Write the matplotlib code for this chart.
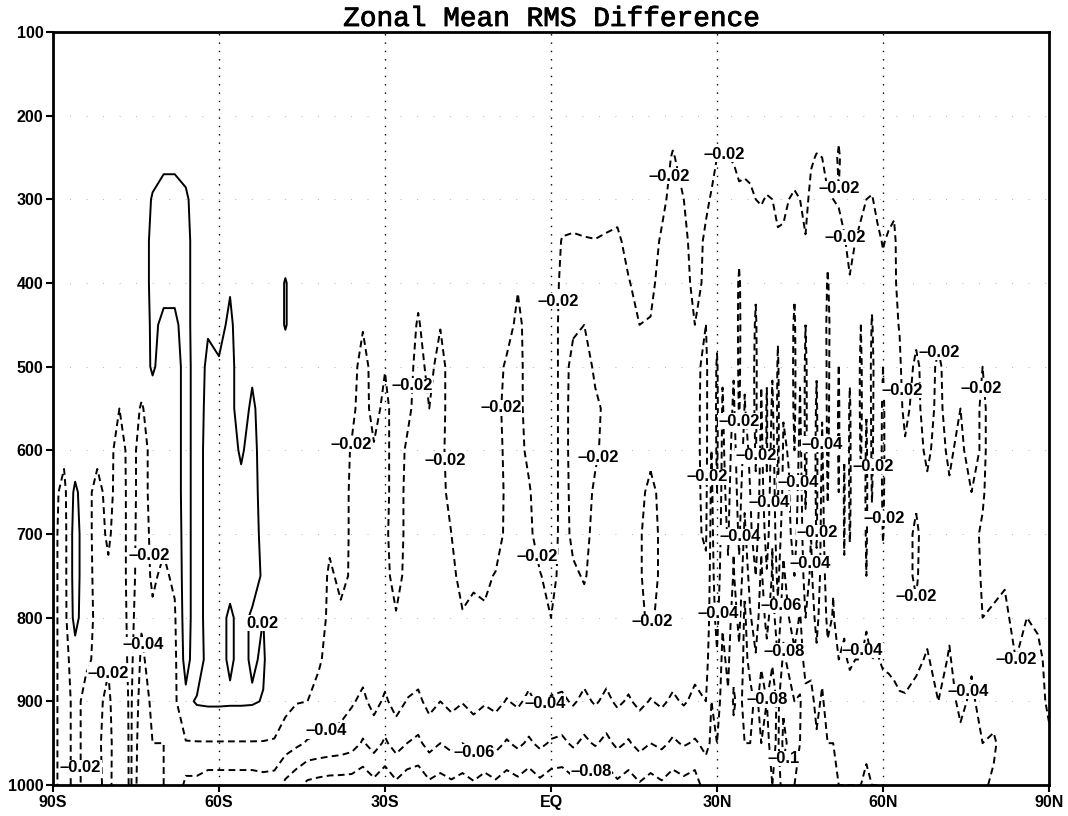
import numpy as np
import matplotlib
matplotlib.use("Agg")
import matplotlib.pyplot as plt
import matplotlib.patheffects as pe
from matplotlib.path import Path

# grid: pressure levels (hPa) and latitudes (1 deg in the NH midlatitudes)
plev = [100, 200, 250, 300, 350, 400, 450, 500, 550, 600, 650, 700, 750, 800, 850, 900, 950, 1000]
lats = list(range(-90, 28, 2)) + list(range(28, 64)) + list(range(64, 91, 2))

# zonal mean rms difference in units of 0.01, one row per latitude, levels top->bottom
rms = [
    [-0.5, -1, -1, -1, -1, -1, -1, -1, -1, -1, -1, -1, -1, -1, -1, -1, -1, -1],          # 90S
    [-0.5, -1, -1, -1, -1, -1, -1, -1, -1, -1.2, -3, -3.5, -3.5, -3.5, -3.5, -3.5, -3.5, -3.5],
    [-0.5, -1, -1, -1, -1, -1, -1, -1, -1, -1, 3, 4, 4, 3.5, 0, -1, -1, -1],
    [-0.5, -1, -1, -1, -1, -1, -1, -1, -1, -1, -1, -1, -1, -1, -1.5, -3, -3, -3],
    [-0.5, -1, -1, -1, -1, -1, -1, -1, -1, -1.2, -3, -3, -2.8, -2.6, -2.6, -2.4, -2.4, -2.6],
    [-0.5, -1, -1, -1, -1, -1, -1, -1, -1, -1, -1, -1.6, -2.4, -2.4, -2.2, -1.6, -1.2, -1.2],  # 80S
    [-0.5, -1, -1, -1, -1, -1, -1, -1, -2, -3.2, -3.4, -3.4, -3.4, -3.4, -3.4, -3.6, -3.8, -4],
    [-0.5, -1, -1, -1, -1, -1, -1, -1, -1, -1, -1, -1, -1, -1.2, -1.4, -1.6, -1.6, -1.6],
    [-0.5, -1, -1, -1, -1, -1, -1, -1, -2.2, -3, -3, -3.2, -3.4, -3.8, -4.4, -5, -5.6, -6],
    [-0.5, -1, -0.5, 2.5, 3.5, 3.5, 3, 2.8, -1, -1.2, -1.2, -1.4, -1.6, -2.4, -3, -3.6, -4, -4.4],
    [-0.5, -1, 1, 3.5, 4, 3.5, 1, -0.5, -0.5, -1, -1, -1.5, -2.5, -3, -3, -3.5, -4, -4],     # 70S
    [-0.5, -1, 1, 3.5, 4, 3.5, 1, -0.5, -0.5, -0.5, -0.5, -1, -1.5, -2.4, -2.8, -2.6, -2.4, -2.4],
    [-0.5, -1, -0.5, 3, 4, 4, 4, 4, 4, 4, 4, 4, 4, 4, 3.5, 1, -2.2, -4.5],
    [-0.5, -1, -1, -1, -1, -1, -1, -0.5, -0.5, -0.5, -0.5, -0.5, -0.5, -0.5, -0.5, 2.4, -2.2, -4.5],
    [-0.5, -1, -1, -1, -1, -1, 1.5, 3, 3.5, 4, 4, 4, 4, 4, 3.5, 2.6, -2.2, -5],
    [-0.5, -1, -1, -1, -1, -1, 0.5, 2.5, 3.5, 4, 4, 4, 4, 3, 3, 2.6, -2.2, -5],             # 60S
    [-0.5, -1, -1, -1, -1, 1.5, 3, 3.5, 3.5, 3.5, 3.5, 3.5, 3, 1.5, 1.5, 2.5, -2.2, -5],
    [-0.5, -1, -1, -1, -1, -1, -1, -0.5, -0.5, 1.5, 3, 3.5, 3.5, 3, 3, 2.5, -2.2, -5],
    [-0.5, -1, -1, -1, -1, -1, -1, 1, 3, 3.5, 3.5, 3.5, 3.5, 1.5, 1.5, 2.4, -2.2, -5],
    [-0.5, -1, -1, -1, -1, -1, -1, -1, -0.5, 0, 0.5, 1, 1.5, 2, 2.5, 1.8, -2.2, -4.8],
    [-0.5, -1, -1, -1, -1, -1, -1, -1, -1, -1, -1, -1, -1, -1, -1, -1.2, -2.1, -5],        # 50S
    [-0.5, -1, -1, -1, -1, 2.4, 2.4, -1, -1, -1, -1, -1, -1, -1, -1, -1.4, -3, -6.5],
    [-0.5, -1, -1, -1, -1, -1, -1, -1, -1, -1, -1, -1, -1, -1, -1.2, -1.9, -3.6, -7.5],
    [-0.5, -1, -1, -1, -1, -1, -1, -1, -1, -1, -1, -1, -1, -1, -1.5, -2, -4.2, -8.5],
    [-0.5, -1, -1, -1, -1, -1, -1, -1, -1, -1, -1, -1, -1, -1.2, -1.8, -2.5, -4.4, -8.8],
    [-0.5, -1, -1, -1, -1, -1, -1, -1, -1, -1, -1, -1.6, -2.3, -2.4, -2.5, -2.8, -4.6, -9],  # 40S
    [-0.5, -1, -1, -1, -1, -1, -1, -1, -1, -1, -1, -1, -1.6, -2.3, -2.6, -3.2, -4.8, -9],
    [-0.5, -1, -1, -1, -1, -1, -1, -1, -1.5, -2.2, -2.4, -2.4, -2.2, -2.4, -2.8, -3.8, -5.2, -9],
    [-0.5, -1, -1, -1, -1, -1, -1.8, -3, -3, -2.8, -2.6, -2.4, -2.4, -2.6, -3.2, -4.4, -6.2, -9.4],
    [-0.5, -1, -1, -1, -1, -1, -1, -1, -1.2, -2.2, -2.4, -2.4, -2.4, -2.5, -2.6, -3.4, -5.2, -8.6],
    [-0.5, -1, -1, -1, -1, -1, -1, -1.9, -2.6, -2.6, -2.6, -2.4, -2.4, -2.4, -3, -4.3, -6.3, -9.4],  # 30S
    [-0.5, -1, -1, -1, -1, -1, -1, -1, -1, -1, -1, -1, -1.5, -2.1, -2.4, -3.3, -5.2, -8.4],
    [-0.5, -1, -1, -1, -1, -1, -1, -1, -1.5, -2.3, -2.5, -2.5, -2.4, -2.4, -2.8, -4.1, -6, -9.2],
    [-0.5, -1, -1, -1, -1, -1.5, -2.2, -2.8, -2.8, -2.6, -2.6, -2.5, -2.4, -2.6, -3, -4.4, -6.4, -9.4],
    [-0.5, -1, -1, -1, -1, -1, -1, -1.4, -2, -2.6, -2.6, -2.5, -2.4, -2.5, -2.6, -3.4, -5.3, -8.4],
    [-0.5, -1, -1, -1, -1, -1, -1.9, -2.8, -2.8, -2.6, -2.6, -2.4, -2.3, -2.4, -2.8, -4, -6, -8.8],  # 20S
    [-0.5, -1, -1, -1, -1, -1, -1, -1, -1, -1, -1.4, -2, -2.3, -2.4, -2.6, -3.5, -5.4, -8.4],
    [-0.5, -1, -1, -1, -1, -1, -1, -1, -1, -1, -1, -1, -1.6, -2.1, -2.6, -3.9, -6, -8.8],
    [-0.5, -1, -1, -1, -1, -1, -1, -1, -1, -1, -1, -1, -1.8, -2.3, -2.4, -3.4, -5.3, -8.3],
    [-0.5, -1, -1, -1, -1, -1, -1, -1, -1, -1, -1, -1, -1.7, -2.2, -2.7, -3.8, -5.9, -8.9],
    [-0.5, -1, -1, -1, -1, -1, -1, -1, -1, -1, -1, -1.2, -2.1, -2.3, -2.5, -3.5, -5.4, -8.4],  # 10S
    [-0.5, -1, -1, -1, -1, -1, -1, -2.4, -3, -2.6, -2.4, -2.4, -2.4, -2.4, -2.8, -4.1, -6.2, -9],
    [-0.5, -1, -1, -1, -1, -1.8, -2.6, -2.8, -2.8, -2.6, -2.4, -2.3, -2.3, -2.4, -2.6, -3.7, -5.6, -8.6],
    [-0.5, -1, -1, -1, -1, -1, -1, -1, -1, -1.6, -2.2, -2.4, -2.4, -2.4, -2.9, -4.4, -6.3, -9.2],
    [-0.5, -1, -1, -1, -1, -1, -1, -1, -1, -1, -1, -1.2, -2.1, -2.3, -2.6, -3.6, -5.6, -8.5],
    [-0.5, -1, -1, -1, -1, -1, -1, -1, -1, -1, -1, -1, -1.4, -2, -2.8, -4.2, -6.2, -9.1],     # EQ
    [-0.5, -1, -1, -1.2, -2.1, -2.4, -2.6, -2.6, -2.6, -2.6, -2.6, -2.6, -2.6, -2.6, -3, -4.3, -6.4, -9.2],
    [-0.5, -1, -1, -1.2, -2.2, -2.4, -2.2, -1.6, -1.5, -1.5, -1.6, -1.7, -2.2, -2.6, -2.8, -3.8, -5.7, -8.6],
    [-0.5, -1, -1, -1.2, -2.1, -2.3, -2, -1.5, -1.4, -1.4, -1.5, -1.6, -1.9, -2.4, -3.1, -4.4, -6.4, -9.3],
    [-0.5, -1, -1, -1.1, -2.05, -2.4, -2.4, -2.2, -1.8, -1.8, -2.2, -2.4, -2.4, -2.6, -2.9, -3.8, -5.8, -8.7],
    [-0.5, -1, -1, -1.2, -2.2, -2.5, -2.4, -2.1, -2.2, -2.4, -2.4, -2.4, -2.4, -2.6, -3.1, -4.4, -6.5, -9.3],  # 10N
    [-0.5, -1, -1, -1.4, -2.3, -2.5, -2.5, -2.4, -2.4, -2.4, -2.4, -2.3, -2.2, -2.4, -2.8, -3.7, -5.6, -8.4],
    [-0.5, -1, -1, -1, -1.5, -2.1, -2.4, -2.4, -2.4, -2.4, -2.3, -2.2, -2.2, -2.4, -3, -4.2, -6.2, -9],
    [-0.5, -1, -1, -1, -1, -1.5, -2, -2.4, -2.4, -2.4, -2.2, -2.1, -2.1, -2.2, -2.7, -3.6, -5.4, -8.2],
    [-0.5, -1, -1, -1, -1, -1.6, -2.1, -2.4, -2.4, -2.2, -1.8, -1.6, -1.6, -1.8, -2.8, -4.1, -6, -8.8],
    [-0.5, -1, -1, -1.4, -2.3, -2.6, -2.6, -2.5, -2.4, -2.3, -2.2, -2.2, -2.2, -2.4, -2.7, -3.7, -5.6, -8.3],  # 20N
    [-0.5, -1, -2.2, -2.8, -3, -3.2, -3.2, -3.2, -3, -2.8, -2.6, -2.4, -2.4, -2.6, -3, -4.3, -6.3, -9],
    [-0.5, -1, -1.2, -2, -2.6, -2.8, -2.8, -2.8, -2.6, -2.5, -2.4, -2.4, -2.4, -2.6, -2.8, -3.8, -5.8, -8.6],
    [-0.5, -1, -1, -1, -1, -1.4, -2, -2.4, -2.4, -2.4, -2.4, -2.3, -2.3, -2.8, -3.4, -4.4, -6.2, -9],
    [-0.5, -1, -1, -1.6, -2.4, -2.4, -2, -1.6, -1.5, -1.5, -1.6, -1.8, -2.3, -2.6, -3.2, -4, -5.6, -7],     # 28N
    [-0.5, -1, -1.3, -2.2, -2.6, -2.8, -3, -3.4, -3.8, -4, -4.4, -4.6, -4.8, -5, -5.4, -6, -6.2, -6.4],
    [-0.5, -1, -2, -2.6, -2.8, -2.8, -2.4, -1.8, -1.6, -1.7, -2, -2.4, -2.8, -3.4, -4.2, -4.8, -6, -7],     # 30N
    [-0.5, -1.1, -2.1, -2.8, -3, -3.2, -3.4, -3.8, -4.2, -4.4, -4.6, -4.8, -5.2, -5.8, -6.4, -7, -6.4, -6],
    [-0.5, -1, -2, -2.6, -2.6, -2.4, -2.2, -2.2, -2.6, -3, -3.4, -3.8, -4.2, -5, -5.6, -6.2, -6.8, -7],
    [-0.5, -1, -1.9, -2.6, -2.8, -3, -3.4, -3.8, -4.4, -5, -5.4, -5.8, -6.2, -7, -7.6, -8.2, -7.6, -7],
    [-0.5, -1, -1.6, -2.3, -2.4, -1.8, -1.6, -1.6, -1.8, -2.4, -3, -3.6, -4.4, -5.4, -6.4, -7.6, -7, -6.6],
    [-0.5, -1, -1.6, -2.4, -2.7, -3, -3.4, -3.8, -4.1, -4.8, -5.6, -6.4, -7.4, -8.4, -8.6, -8.4, -8, -7.6],
    [-0.5, -1, -1.5, -2.3, -2.6, -2.8, -3, -3, -3.2, -3.6, -4, -4.4, -5.2, -6.2, -7.4, -8.6, -8, -7.6],
    [-0.5, -1, -1.2, -2, -2.4, -2.2, -1.8, -1.6, -1.6, -1.8, -2.2, -3, -4, -5, -6.2, -7.6, -7.2, -6.8],
    [-0.5, -1, -1, -1.9, -2.6, -3, -3.4, -3.8, -4.2, -4.6, -5, -5.6, -6.4, -7, -7.8, -8.6, -8, -7.4],
    [-0.5, -1, -1.2, -2.1, -2.4, -2.4, -2.4, -2.2, -1.8, -1.8, -2.2, -3, -4.2, -5.4, -6.6, -8, -7.6, -7],
    [-0.5, -1, -1.1, -2, -2.6, -3, -3.4, -3.8, -4.4, -5, -5.6, -5.9, -6.2, -7, -7.8, -9, -8.6, -8],         # 40N
    [-0.5, -1, -1, -1.6, -2.2, -2.4, -2.2, -1.8, -1.6, -1.6, -1.8, -2.4, -3.4, -4.6, -6, -7.6, -7.6, -7],
    [-0.5, -1, -1, -1.6, -2.3, -2.8, -3.2, -3.6, -3.9, -4.2, -4.6, -5.4, -6.4, -7.4, -8.4, -9.6, -10.6, -9],
    [-0.5, -1, -1.2, -2, -2.4, -2.6, -2.8, -3.2, -3.6, -3.9, -4.1, -4.4, -5, -6, -7.4, -9, -9.6, -8.6],
    [-0.5, -1, -1.3, -2.2, -2.4, -2.2, -1.8, -1.6, -1.6, -2, -2.6, -3.2, -4, -5, -6.4, -8, -8.4, -8],
    [-0.5, -1, -1.2, -2, -2.6, -3, -3.4, -3.8, -4.2, -4.6, -5, -5.2, -5.6, -6.2, -7, -8.2, -8, -7.4],
    [-0.5, -1, -1, -1.5, -2.1, -2.3, -2, -1.7, -1.6, -1.6, -1.8, -2.3, -3, -4, -5.2, -6.6, -7, -6.6],
    [-0.5, -1, -1.8, -2.5, -2.6, -2.8, -3, -3.2, -3.4, -3.6, -3.8, -4, -4.4, -5, -5.6, -6.4, -6.6, -6.2],
    [-0.5, -1.1, -2.1, -2.5, -2.5, -2.4, -2.3, -2.1, -1.8, -1.6, -1.6, -1.8, -2.4, -3.4, -4.4, -5.6, -6.2, -6],
    [-0.5, -1, -2, -2.5, -2.6, -2.8, -3.2, -3.6, -3.9, -4.2, -4.6, -4.8, -5, -5.2, -5.6, -6.2, -6.4, -6.2],
    [-0.5, -1, -1.3, -2.2, -2.3, -1.9, -1.6, -1.6, -1.6, -1.7, -1.9, -2.3, -3, -3.6, -4.4, -5.4, -6, -6],    # 50N
    [-0.5, -1, -1.2, -2, -2.4, -2.6, -2.8, -3, -3.2, -3.4, -3.6, -3.8, -3.9, -4.1, -4.6, -5.2, -6, -6],
    [-0.5, -1.2, -2.3, -1.9, -2.4, -2.4, -2.2, -2, -1.8, -1.8, -2, -2.4, -2.8, -3.4, -4, -5, -5.8, -6],
    [-0.5, -1, -1, -1.6, -2.1, -2.6, -2.9, -3.2, -3.6, -3.9, -4.2, -4.1, -3.9, -3.8, -4.2, -4.8, -5.8, -6],
    [-0.5, -1, -1, -1, -1.6, -2.1, -2.4, -2.2, -1.8, -1.7, -1.7, -1.9, -2.4, -3, -3.8, -4.6, -5.6, -6],
    [-0.5, -1, -1, -1.4, -2, -2.4, -2.8, -3.2, -3.6, -3.8, -3.6, -3.4, -3.2, -3.4, -4, -4.6, -5.6, -6],
    [-0.5, -1, -1, -1.6, -2.4, -2.4, -2, -1.7, -1.6, -1.8, -2.2, -2.6, -3, -3.4, -4, -4.6, -5.6, -6],
    [-0.5, -1, -1.2, -2, -2.5, -2.8, -3.2, -3.6, -3.9, -4.3, -4.4, -4.2, -4, -3.9, -4.2, -4.8, -5.8, -6.2],
    [-0.5, -1, -1.2, -2.1, -2.4, -2.3, -1.9, -1.6, -1.6, -1.7, -1.9, -2.3, -2.8, -3.4, -4, -4.8, -5.6, -6],
    [-0.5, -1, -1, -1.6, -2.3, -2.6, -2.8, -3, -3.2, -3.3, -3.4, -3.4, -3.4, -3.6, -4.1, -4.8, -5.6, -6],
    [-0.5, -1, -1, -1, -1.9, -2.4, -2.4, -2, -1.7, -1.6, -1.7, -1.9, -2.4, -3, -3.8, -4.6, -5.4, -5.8],     # 60N
    [-0.5, -1, -1, -1.4, -2.2, -2.5, -2.6, -2.8, -3, -3.2, -3.2, -3, -3, -3.2, -3.8, -4.4, -5.2, -5.6],
    [-0.5, -1, -1, -1.6, -2.4, -2.4, -2.4, -2.2, -2, -2.2, -2.4, -2.4, -2.6, -3, -3.6, -4.4, -5.2, -5.6],
    [-0.5, -1, -1, -1, -1, -1.3, -1.9, -2.3, -2.4, -2.4, -2.4, -2.4, -2.6, -2.8, -3.4, -4.2, -5, -5.4],
    [-0.5, -1, -1, -1, -1, -1, -1, -1, -1.6, -2.2, -2.4, -2.4, -2.4, -2.6, -3.2, -4.2, -5, -5.4],
    [-0.5, -1, -1, -1, -1, -1, -1.4, -2.4, -2.6, -2.6, -2.2, -1.8, -1.8, -2.2, -3.6, -4.6, -5.2, -5.4],
    [-0.5, -1, -1, -1, -1, -1, -1, -1, -1, -1.7, -2.3, -2.6, -3, -3.4, -4.2, -4.6, -5, -5.2],
    [-0.5, -1, -1, -1, -1, -1, -1.4, -2.4, -2.6, -2.6, -2.4, -2.2, -2, -2.4, -3.2, -4, -5, -5.2],        # 70N
    [-0.5, -1, -1, -1, -1, -1, -1, -1, -1, -1.7, -2.2, -2.6, -3, -3.6, -4.2, -4.6, -4.8, -5],
    [-0.5, -1, -1, -1, -1, -1, -1, -1, -2, -2.5, -2.5, -2.3, -2.1, -2.2, -2.8, -3.6, -4.4, -4.8],
    [-0.5, -1, -1, -1, -1, -1, -1, -1, -1, -1, -2, -2.4, -2.8, -3.2, -3.8, -4.3, -4.4, -4.6],
    [-0.5, -1, -1, -1, -1, -1, -1, -2, -2.4, -2.4, -2.2, -1.8, -1.8, -2, -2.6, -3.4, -4, -4.2],
    [-0.5, -1, -1, -1, -1, -1, -1, -1, -1, -1, -1, -1, -1.6, -2.2, -2.6, -3.4, -4.2, -3.8],       # 80N
    [-0.5, -1, -1, -1, -1, -1, -1, -1, -1, -1, -1, -1, -1.8, -2.4, -2.5, -3, -3.4, -3.4],
    [-0.5, -1, -1, -1, -1, -1, -1, -1, -1, -1, -1, -1, -1, -1.4, -2, -2.6, -3, -2.8],
    [-0.5, -1, -1, -1, -1, -1, -1, -1, -1, -1, -1, -1, -1.4, -2, -2.4, -2.6, -2.6, -2.4],
    [-0.5, -1, -1, -1, -1, -1, -1, -1, -1, -1, -1, -1, -1, -1.8, -2.3, -2.4, -2.4, -2.2],
    [-0.5, -1, -1, -1, -1, -1, -1, -1, -1, -1, -1, -1, -1, -1.2, -1.6, -1.8, -2.2, -2],       # 90N
]
assert len(rms) == len(lats)

clevs = [-0.10, -0.08, -0.06, -0.04, -0.02, 0.02]
xticks = [-90, -60, -30, 0, 30, 60, 90]
xlabels = ['90S', '60S', '30S', 'EQ', '30N', '60N', '90N']
yticks = [100, 200, 300, 400, 500, 600, 700, 800, 900, 1000]

field = np.array(rms, dtype=float).T / 100.0

fig = plt.figure(figsize=(10.68, 8.16), dpi=100)
ax = fig.add_axes([53 / 1068, 1 - 785 / 816, (1049 - 53) / 1068, (785 - 32) / 816])
ax.set_xlim(-90, 90)
ax.set_ylim(1000, 100)

# dotted grid: meridians every 30 deg, faint pressure lines
for x in [-60, -30, 0, 30, 60]:
    ax.axvline(x, color='k', lw=1.0, linestyle=(0, (1, 5)), zorder=1)
for p in yticks[1:-1]:
    ax.axhline(p, color='0.7', lw=0.7, linestyle=(0, (1, 16)), zorder=1)

styles = [(0, (3.5, 2.2))] * 5 + ['solid']
cs = ax.contour(lats, plev, field, levels=clevs, colors='k',
                linewidths=1.4, linestyles=styles, zorder=2)


def split_segments(path):
    codes = path.codes
    n = len(path.vertices)
    if codes is None:
        return [path.vertices]
    starts = [0] + [i for i in range(1, n) if codes[i] == Path.MOVETO]
    ends = starts[1:] + [n]
    return [path.vertices[a:b] for a, b in zip(starts, ends)]


# horizontal contour labels on a white box, spaced along each line
placed = []
for lev, path in zip(cs.levels, cs.get_paths()):
    if len(path.vertices) == 0:
        continue
    txt = ('%g' % lev).replace('-', '\u2013')
    spacing = 3000 if lev > 0 else 380
    minlen = 300 if lev > 0 else 70
    for seg in split_segments(path):
        pts = ax.transData.transform(seg)
        if len(pts) < 2:
            continue
        s = np.concatenate([[0], np.cumsum(np.hypot(*np.diff(pts, axis=0).T))])
        if s[-1] < minlen:
            continue
        first = min(spacing * 0.4, s[-1] * 0.5)
        for target in np.arange(first, s[-1] - 15, spacing):
            i = max(1, int(np.searchsorted(s, target)))
            f = (target - s[i - 1]) / max(s[i] - s[i - 1], 1e-9)
            px, py = pts[i - 1] + f * (pts[i] - pts[i - 1])
            if px < 80 or px > 1025 or py < 40 or py > 770:
                continue
            if any(abs(px - qx) < 58 and abs(py - qy) < 20 for qx, qy in placed):
                continue
            placed.append((px, py))
            x, y = seg[i - 1] + f * (seg[i] - seg[i - 1])
            ax.text(x, y, txt, ha='center', va='center',
                    fontsize=12, fontweight='bold', family='Liberation Sans',
                    bbox=dict(fc='white', ec='none', pad=0.3), zorder=3)

ax.set_xticks(xticks)
ax.set_xticklabels(xlabels)
ax.set_yticks(yticks)
ax.set_yticklabels([str(v) for v in yticks])
ax.tick_params(direction='out', length=5, width=1.5, pad=2, labelsize=11.5)
for lab in ax.get_xticklabels() + ax.get_yticklabels():
    lab.set_fontweight('bold')
    lab.set_family('Liberation Sans')
for s in ax.spines.values():
    s.set_linewidth(2)

title = ax.set_title('Zonal Mean RMS Difference', family='Liberation Mono',
                     fontsize=20, pad=1)
title.set_path_effects([pe.withStroke(linewidth=0.6, foreground='k')])

fig.savefig('out.png', dpi=100)
